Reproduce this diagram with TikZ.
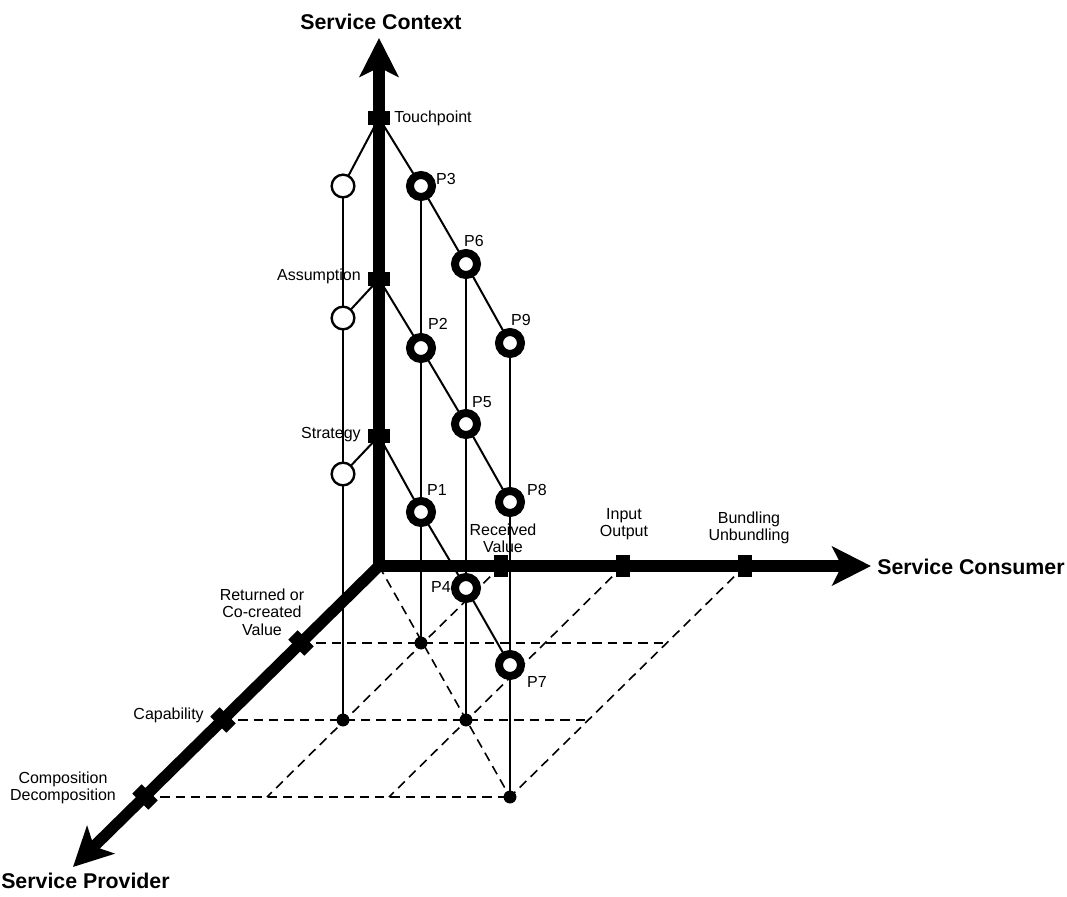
\documentclass[tikz,border=0pt]{standalone}
\usepackage{fontspec}
\setmainfont{Liberation Sans}
\usetikzlibrary{arrows.meta}
\begin{document}
\begin{tikzpicture}[x=0.75pt,y=-0.75pt,
  font=\fontsize{12}{13}\selectfont,
  axis/.style={line width=8.5pt, line cap=rect, -{Stealth[length=29pt,width=29pt,inset=7pt]}},
  thinline/.style={line width=1.5pt},
  floorline/.style={line width=1.2pt, dash pattern=on 7pt off 4.5pt},
  ring/.style={circle, draw, line width=6pt, fill=white, minimum size=16.5pt, inner sep=0pt},
  hollow/.style={circle, draw, line width=1.8pt, fill=white, minimum size=17pt, inner sep=0pt},
  fdot/.style={circle, fill, minimum size=9.5pt, inner sep=0pt},
  vtick/.style={rectangle, fill, minimum width=17pt, minimum height=10pt, inner sep=0pt},
  htick/.style={rectangle, fill, minimum width=10pt, minimum height=17pt, inner sep=0pt},
  dtick/.style={rectangle, fill, minimum width=17pt, minimum height=10pt, inner sep=0pt, rotate=-45},
  titletext/.style={font=\fontsize{16}{19}\selectfont\bfseries, inner sep=0pt},
  lbl/.style={align=center, inner sep=0pt},
  plbl/.style={inner sep=0pt}
]
\useasboundingbox (0,0) rectangle (1067,896);

% origin and axis tips
\coordinate (O) at (379,566);
\coordinate (ztip) at (379,38);
\coordinate (xtip) at (871,566);
\coordinate (ytip) at (73,867);

% floor grid points G(i,j) = O + i*(122,0) + j*(-78,77)
\coordinate (g10) at (501,566);
\coordinate (g20) at (623,566);
\coordinate (g30) at (745,566);
\coordinate (g01) at (301,643);
\coordinate (g02) at (223,720);
\coordinate (g03) at (145,797);
\coordinate (g13) at (267,797);
\coordinate (g23) at (389,797);
\coordinate (g31) at (667,643);
\coordinate (g32) at (589,720);

% floor dots
\node[fdot] (f11) at (421,643) {};
\node[fdot] (f12) at (343,720) {};
\node[fdot] (f22) at (466,720) {};
\node[fdot] (f33) at (510,797) {};

% floor dashed lines
\draw[floorline] (g01) -- (g31);
\draw[floorline] (g02) -- (g32);
\draw[floorline] (g03) -- (f33.center);
\draw[floorline] (g10) -- (g13);
\draw[floorline] (g20) -- (g23);
\draw[floorline] (g30) -- (f33.center);
\draw[floorline] (O) -- (f33.center);

% ticks on the vertical axis (positions)
\coordinate (tTouch) at (379,118);
\coordinate (tAssum) at (379,279);
\coordinate (tStrat) at (379,436);

% point positions
\coordinate (cw3) at (343,186);
\coordinate (cw2) at (343,318);
\coordinate (cw1) at (343,474);
\coordinate (c3) at (421,186);
\coordinate (c2) at (421,348);
\coordinate (c1) at (421,512);
\coordinate (c6) at (466,264);
\coordinate (c5) at (466,424);
\coordinate (c4) at (466,588);
\coordinate (c9) at (510,343);
\coordinate (c8) at (510,502);
\coordinate (c7) at (510,665);

% vertical drop lines
\draw[thinline] (cw3) -- (f12.center);
\draw[thinline] (c3) -- (f11.center);
\draw[thinline] (c6) -- (f22.center);
\draw[thinline] (c9) -- (f33.center);

% slanted lines from the context ticks
\draw[thinline] (tTouch) -- (cw3);
\draw[thinline] (tAssum) -- (cw2);
\draw[thinline] (tStrat) -- (cw1);
\draw[thinline] (tTouch) -- (c3) -- (c6) -- (c9);
\draw[thinline] (tAssum) -- (c2) -- (c5) -- (c8);
\draw[thinline] (tStrat) -- (c1) -- (c4) -- (c7);

% redraw floor dots above lines
\node[fdot] at (f11) {};
\node[fdot] at (f12) {};
\node[fdot] at (f22) {};
\node[fdot] at (f33) {};

% axes
\draw[axis] (O) -- (ztip);
\draw[axis] (O) -- (xtip);
\draw[axis] (O) -- (ytip);

% ticks
\node[vtick] (kTouch) at (tTouch) {};
\node[vtick] (kAssum) at (tAssum) {};
\node[vtick] (kStrat) at (tStrat) {};
\node[htick] (kRecv) at (g10) {};
\node[htick] (kInput) at (g20) {};
\node[htick] (kBundle) at (g30) {};
\node[dtick] (kReturn) at (g01) {};
\node[dtick] (kCap) at (g02) {};
\node[dtick] (kComp) at (g03) {};

% circles
\node[hollow] (w3) at (cw3) {};
\node[hollow] (w2) at (cw2) {};
\node[hollow] (w1) at (cw1) {};
\node[ring] (P3) at (c3) {};
\node[ring] (P2) at (c2) {};
\node[ring] (P1) at (c1) {};
\node[ring] (P6) at (c6) {};
\node[ring] (P5) at (c5) {};
\node[ring] (P4) at (c4) {};
\node[ring] (P9) at (c9) {};
\node[ring] (P8) at (c8) {};
\node[ring] (P7) at (c7) {};

% point labels
\node[plbl] (lP3) at (446,179) {P3};
\node[plbl] (lP6) at (474,241) {P6};
\node[plbl] (lP9) at (521,320) {P9};
\node[plbl] (lP2) at (438,324) {P2};
\node[plbl] (lP5) at (482,402) {P5};
\node[plbl] (lP8) at (537,490) {P8};
\node[plbl] (lP1) at (437,490) {P1};
\node[plbl] (lP4) at (441,587) {P4};
\node[plbl] (lP7) at (537,682) {P7};

% axis labels
\node[titletext] (tz) at (381,22) {Service Context};
\node[titletext, anchor=west] (tx) at (877,567) {Service Consumer};
\node[titletext, anchor=west] (ty) at (1,881) {Service Provider};

\node[lbl, anchor=west] (lTouch) at (394,118) {Touchpoint};
\node[lbl, anchor=east] (lAssum) at (361,276) {Assumption};
\node[lbl, anchor=east] (lStrat) at (361,435) {Strategy};

\node[lbl] (lRecv) at (503,538) {Received\\Value};
\node[lbl] (lInput) at (624,524) {Input\\Output};
\node[lbl] (lBundle) at (749,528) {Bundling\\Unbundling};

\node[lbl] (lReturn) at (262,612) {Returned or\\Co-created\\Value};
\node[lbl, anchor=east] (lCap) at (204,715) {Capability};
\node[lbl] (lComp) at (63,788) {Composition\\Decomposition};
\end{tikzpicture}
\end{document}
